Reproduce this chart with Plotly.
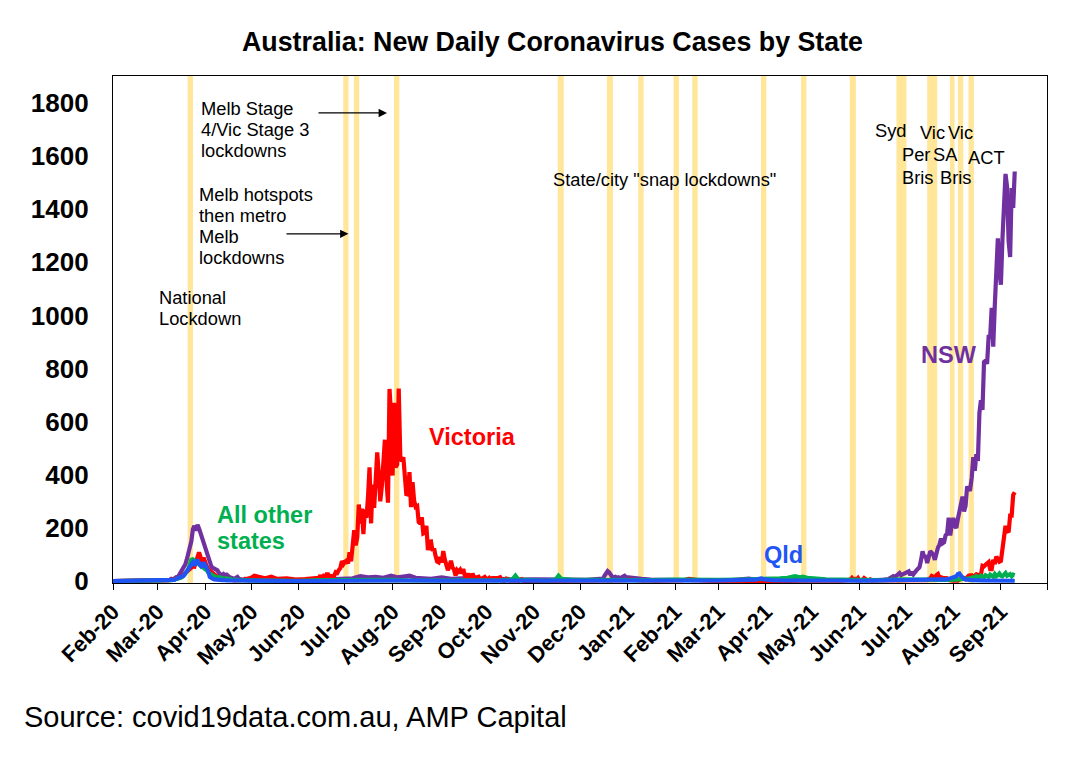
import pandas as pd
import plotly.graph_objects as go

# ---------------- axis data ----------------
tick_dates = ["2020-02-01", "2020-03-01", "2020-04-01", "2020-05-01", "2020-06-01", "2020-07-01",
              "2020-08-01", "2020-09-01", "2020-10-01", "2020-11-01", "2020-12-01", "2021-01-01",
              "2021-02-01", "2021-03-01", "2021-04-01", "2021-05-01", "2021-06-01", "2021-07-01",
              "2021-08-01", "2021-09-01", "2021-10-01"]
tick_labels = ["Feb-20", "Mar-20", "Apr-20", "May-20", "Jun-20", "Jul-20", "Aug-20", "Sep-20", "Oct-20",
               "Nov-20", "Dec-20", "Jan-21", "Feb-21", "Mar-21", "Apr-21", "May-21", "Jun-21", "Jul-21",
               "Aug-21", "Sep-21", ""]
y_ticks = [0, 200, 400, 600, 800, 1000, 1200, 1400, 1600, 1800]

# ---------------- lockdown periods ----------------
lock_start = ["2020-03-20 14:00", "2020-06-29 22:00", "2020-07-06 19:00", "2020-08-01 22:00",
              "2020-11-16 12:00", "2020-12-18 12:00", "2021-01-07 22:00", "2021-01-30 22:00",
              "2021-02-12 02:00", "2021-03-28 19:00", "2021-04-23 22:00", "2021-05-25 14:00",
              "2021-06-25 00:00", "2021-07-15 00:00", "2021-07-29 19:00", "2021-08-04 00:00",
              "2021-08-10 22:00"]
lock_end = ["2020-03-24 02:00", "2020-07-03 07:00", "2020-07-10 07:00", "2020-08-05 10:00",
            "2020-11-20 10:00", "2020-12-22 10:00", "2021-01-11 10:00", "2021-02-03 10:00",
            "2021-02-15 14:00", "2021-04-01 07:00", "2021-04-27 10:00", "2021-05-29 14:00",
            "2021-07-01 12:00", "2021-07-21 12:00", "2021-08-01 19:00", "2021-08-07 12:00",
            "2021-08-14 10:00"]

# ---------------- NSW ----------------
nsw_a_dates = ["2020-02-01", "2020-02-15", "2020-03-01"]
nsw_a_vals = [0, 0, 1]
nsw_b_start = "2020-03-05"
nsw_b_vals = [2, 3, 2, 3, 5, 8, 6, 10, 14, 12,
              22, 30, 38, 50, 62, 80, 105, 125, 150, 195,
              208, 190, 212, 198, 180, 155, 140, 125, 108, 93,
              75, 55, 50, 48, 42, 40, 30, 24, 20, 26,
              22, 24, 18, 14, 12, 10, 8, 12, 15, 8,
              6, 5, 4, 8, 4, 3, 5, 3]
nsw_c_dates = ["2020-05-08", "2020-05-15", "2020-05-22", "2020-06-01", "2020-06-10", "2020-06-20",
               "2020-07-01", "2020-07-06", "2020-07-11", "2020-07-16", "2020-07-21", "2020-07-26",
               "2020-07-31", "2020-08-04", "2020-08-08", "2020-08-12", "2020-08-16", "2020-08-21",
               "2020-08-26", "2020-09-02", "2020-09-08", "2020-09-15", "2020-09-22", "2020-10-01",
               "2020-10-10", "2020-10-20", "2020-11-01", "2020-11-12", "2020-11-24", "2020-12-05",
               "2020-12-12", "2020-12-16"]
nsw_c_vals = [4, 3, 5, 2, 3, 6, 8, 10, 18, 14, 16, 12, 20, 14, 17, 20, 12, 10, 8, 14, 8, 10, 7, 6,
              8, 5, 6, 4, 5, 4, 6, 9]
nsw_d_start = "2020-12-17"
nsw_d_vals = [20, 28, 37, 32, 22, 15, 14, 16, 12, 14, 10, 12, 16, 20, 15]
nsw_e_dates = ["2021-01-03", "2021-01-06", "2021-01-10", "2021-01-16", "2021-01-24", "2021-02-01",
               "2021-02-10", "2021-02-20", "2021-03-01", "2021-03-10", "2021-03-18", "2021-03-21",
               "2021-03-26", "2021-04-03", "2021-04-12", "2021-04-20", "2021-05-01", "2021-05-10",
               "2021-05-20", "2021-06-01", "2021-06-08"]
nsw_e_vals = [12, 10, 8, 5, 4, 3, 2, 4, 2, 3, 5, 9, 4, 5, 3, 5, 6, 4, 5, 3, 2]
nsw_f_start = "2021-06-14"
nsw_f_vals = [2, 3, 4, 5, 6, 5, 8, 10, 12, 18,
              15, 22, 28, 30, 22, 24, 26, 28, 33, 36,
              22, 34, 25, 30, 40, 46, 52, 78, 112, 90,
              96, 68, 98, 112, 106, 98, 80, 112, 125, 137,
              160, 142, 146, 172, 178, 238, 172, 210, 238, 207,
              200, 234, 262, 290, 318, 262, 283, 356, 344, 345,
              390, 466, 415, 478, 452, 633, 681, 644, 825, 830,
              818, 919, 919, 1029, 882, 1035, 1218, 1290, 1164, 1116,
              1288, 1431, 1533, 1485, 1281, 1220, 1480, 1405, 1542]

# ---------------- Victoria ----------------
vic_a_dates = ["2020-02-01", "2020-02-15", "2020-03-01"]
vic_a_vals = [0, 0, 1]
vic_b_start = "2020-03-05"
vic_b_vals = [2, 1, 3, 2, 3, 4, 5, 6, 9, 10,
              12, 14, 20, 25, 28, 35, 42, 48, 52, 55,
              54, 70, 95, 108, 90, 72, 88, 68, 55, 45,
              40, 32, 25, 20, 18, 15, 12, 8, 10, 9,
              6, 5, 4, 6, 3, 4, 2]
vic_c_dates = ["2020-04-25", "2020-05-01", "2020-05-03", "2020-05-06", "2020-05-10", "2020-05-14",
               "2020-05-18", "2020-05-24", "2020-05-30", "2020-06-05", "2020-06-10"]
vic_c_vals = [4, 12, 20, 14, 10, 16, 8, 10, 5, 7, 10]
vic_d_start = "2020-06-14"
vic_d_vals = [12, 21, 9, 18, 13, 25, 25, 16, 19, 17,
              20, 33, 30, 41, 49, 75, 64, 73, 77, 66,
              108, 74, 127, 191, 134, 165, 288, 216, 273, 177,
              270, 238, 317, 428, 217, 363, 275, 374, 484, 403,
              300, 357, 459, 532, 384, 295, 723, 627, 397, 671,
              429, 439, 725, 471, 450, 466, 394, 322, 331, 410,
              278, 372, 303, 279, 282, 222, 216, 240, 179, 182,
              208, 116, 148, 149, 113, 123, 94, 73, 70, 90,
              70, 113, 81, 63, 41, 55, 76, 51, 43, 21,
              41, 35, 42, 28, 45, 21, 14, 28, 14, 11,
              28, 15, 12, 14, 16, 5, 10, 13, 15, 8,
              6, 12, 7, 11, 10, 9, 11, 12, 14, 3,
              4, 2, 9, 8, 2, 1, 4, 2, 1, 3,
              1, 5, 7, 0, 0, 2, 0, 1, 0, 0]
vic_e_dates = ["2020-11-10", "2020-11-25", "2020-12-10", "2020-12-22", "2020-12-31", "2021-01-02",
               "2021-01-05", "2021-01-10", "2021-01-20", "2021-02-01", "2021-02-06", "2021-02-10",
               "2021-02-13", "2021-02-17", "2021-02-24", "2021-03-10", "2021-03-25", "2021-04-10",
               "2021-04-25", "2021-05-10", "2021-05-20"]
vic_e_vals = [0, 1, 0, 1, 3, 5, 3, 2, 1, 1, 3, 8, 5, 3, 1, 0, 1, 0, 1, 0, 1]
vic_f_start = "2021-05-24"
vic_f_vals = [3, 4, 6, 12, 5, 8, 4, 11, 2, 3, 4, 11, 6, 3, 3, 6, 2, 2]
vic_g_dates = ["2021-06-15", "2021-06-22", "2021-06-29", "2021-07-06", "2021-07-10"]
vic_g_vals = [1, 2, 1, 1, 2]
vic_h_start = "2021-07-14"
vic_h_vals = [2, 3, 7, 10, 19, 16, 13, 22, 26, 11,
              14, 12, 11, 10, 10, 4, 1, 2, 1, 0,
              1, 1, 6, 8, 6, 11, 7, 15, 20, 21,
              21, 14, 21, 25, 22, 24, 24, 57, 55, 61,
              65, 71, 45, 45, 80, 64, 92, 79, 73, 76,
              120, 176, 208, 190, 183, 246, 246, 324, 334]

# ---------------- Queensland ----------------
qld_a_dates = ["2020-02-01", "2020-02-15", "2020-03-01"]
qld_a_vals = [0, 1, 1]
qld_b_start = "2020-03-05"
qld_b_vals = [2, 3, 2, 3, 3, 4, 5, 4, 8, 10,
              14, 15, 17, 20, 28, 37, 45, 50, 62, 70,
              58, 72, 80, 65, 58, 70, 52, 60, 52, 38,
              15, 10, 8, 6, 5, 7, 5, 4, 3, 4,
              2, 2]
qld_c_dates = ["2020-04-22", "2020-05-01", "2020-05-15", "2020-06-01", "2020-07-01", "2020-07-15",
               "2020-08-01", "2020-08-15", "2020-09-01", "2020-10-01", "2020-11-01", "2020-12-01",
               "2021-01-01", "2021-01-08", "2021-01-15", "2021-02-01", "2021-03-01", "2021-03-25",
               "2021-03-29", "2021-03-31", "2021-04-05", "2021-04-15", "2021-05-01", "2021-05-15",
               "2021-06-01", "2021-06-15", "2021-06-29", "2021-07-05", "2021-07-15", "2021-07-25"]
qld_c_vals = [2, 1, 1, 0, 1, 2, 3, 2, 1, 1, 1, 2, 2, 4, 2, 1, 2, 5, 10, 6, 3, 2, 3, 2, 1, 2, 4, 3, 2, 4]
qld_d_start = "2021-07-28"
qld_d_vals = [6, 8, 10, 12, 10, 14, 18, 26, 28, 20, 12, 8, 6, 5, 4, 5, 3]
qld_e_dates = ["2021-08-20", "2021-08-27", "2021-09-03", "2021-09-10"]
qld_e_vals = [2, 1, 2, 1]

# ---------------- All other states ----------------
oth_a_dates = ["2020-02-01", "2020-02-15", "2020-03-01"]
oth_a_vals = [0, 0, 1]
oth_b_start = "2020-03-05"
oth_b_vals = [1, 2, 2, 2, 2, 3, 4, 5, 6, 8,
              10, 12, 15, 20, 25, 35, 45, 60, 80, 82,
              78, 75, 70, 62, 58, 55, 52, 48, 40, 32,
              28, 22, 20, 18, 15, 12, 14, 12, 10, 12,
              8, 10, 6, 8, 5, 4, 5, 3, 4, 3,
              3]
oth_c_dates = ["2020-05-01", "2020-05-15", "2020-06-01", "2020-06-15", "2020-07-01", "2020-07-15",
               "2020-08-01", "2020-08-15", "2020-09-01", "2020-09-15", "2020-10-01", "2020-10-12",
               "2020-10-18", "2020-10-20", "2020-10-22", "2020-11-01", "2020-11-10", "2020-11-15",
               "2020-11-17", "2020-11-19", "2020-11-25", "2020-12-05", "2020-12-15", "2021-01-01",
               "2021-01-15", "2021-02-01", "2021-02-15", "2021-03-01", "2021-03-15", "2021-04-01",
               "2021-04-10", "2021-04-15", "2021-04-18", "2021-04-20", "2021-04-23", "2021-04-25",
               "2021-04-28", "2021-05-03", "2021-05-10", "2021-05-20", "2021-06-01", "2021-06-15",
               "2021-06-28", "2021-07-05", "2021-07-15", "2021-07-20", "2021-07-27", "2021-08-03",
               "2021-08-08"]
oth_c_vals = [2, 1, 1, 3, 4, 3, 4, 2, 2, 3,
              2, 3, 6, 20, 5, 3, 2, 5, 20, 8,
              5, 4, 3, 4, 3, 5, 3, 4, 5, 6,
              10, 12, 15, 18, 14, 16, 12, 8, 6, 5,
              4, 3, 6, 5, 4, 6, 4, 5, 6]
oth_d_start = "2021-08-10"
oth_d_vals = [8, 6, 10, 12, 14, 10, 18, 15, 12, 20,
              16, 14, 22, 18, 15, 24, 20, 16, 26, 18,
              22, 28, 20, 18, 24, 30, 20, 22, 26, 18,
              24, 22]


# ---------------- helpers ----------------
def pts(dates, vals):
    return pd.Series(vals, index=pd.to_datetime(dates), dtype=float)


def run(start, vals):
    return pd.Series(vals, index=pd.date_range(start, periods=len(vals), freq="D"), dtype=float)


def assemble(*parts):
    s = pd.concat(parts)
    s = s[~s.index.duplicated(keep="last")].sort_index()
    return s


nsw = assemble(pts(nsw_a_dates, nsw_a_vals), run(nsw_b_start, nsw_b_vals), pts(nsw_c_dates, nsw_c_vals),
               run(nsw_d_start, nsw_d_vals), pts(nsw_e_dates, nsw_e_vals), run(nsw_f_start, nsw_f_vals))
vic = assemble(pts(vic_a_dates, vic_a_vals), run(vic_b_start, vic_b_vals), pts(vic_c_dates, vic_c_vals),
               run(vic_d_start, vic_d_vals), pts(vic_e_dates, vic_e_vals), run(vic_f_start, vic_f_vals),
               pts(vic_g_dates, vic_g_vals), run(vic_h_start, vic_h_vals))
qld = assemble(pts(qld_a_dates, qld_a_vals), run(qld_b_start, qld_b_vals), pts(qld_c_dates, qld_c_vals),
               run(qld_d_start, qld_d_vals), pts(qld_e_dates, qld_e_vals))
oth = assemble(pts(oth_a_dates, oth_a_vals), run(oth_b_start, oth_b_vals), pts(oth_c_dates, oth_c_vals),
               run(oth_d_start, oth_d_vals))

PURPLE = "#7030A0"
RED = "#FF0000"
GREEN = "#00B050"
BLUE = "#1F55F5"
BAND = "#FFE699"
FONT = "Liberation Sans, Arial, sans-serif"

# page has an 8px body margin: figure is placed at (8, 8) in the window
OFF = 8
W, H = 1070 - 2 * OFF, 765 - 2 * OFF
L, R, T, B = 113 - OFF, 1047 - OFF, 76 - OFF, 583.5 - OFF


def px(x):
    return (x - OFF - L) / (R - L)


def py(y):
    return (B - (y - OFF)) / (B - T)


fig = go.Figure()
for s, col in [(nsw, PURPLE), (vic, RED), (oth, GREEN), (qld, BLUE)]:
    fig.add_trace(go.Scatter(x=s.index, y=s.values, mode="lines",
                             line=dict(color=col, width=4.2), hoverinfo="skip"))

for a, b in zip(lock_start, lock_end):
    fig.add_shape(type="rect", xref="x", yref="paper", x0=a, x1=b, y0=0, y1=1,
                  fillcolor=BAND, line=dict(width=0), layer="below")

ann = []


def txt(text, x, y, size=18.3, color="black", bold=False, anchor="left"):
    ann.append(dict(text=text, x=px(x), y=py(y), xref="paper", yref="paper", showarrow=False,
                    xanchor=anchor, yanchor="middle",
                    font=dict(family=FONT, size=size, color=color, weight="bold" if bold else "normal")))


def arrow(x0, y0, x1, y1):
    ann.append(dict(text="", x=px(x1), y=py(y1), xref="paper", yref="paper", showarrow=True,
                    ax=x0 - x1, ay=y0 - y1, arrowhead=2, arrowsize=1.4, arrowwidth=1.2,
                    arrowcolor="black"))


# title and source
txt("Australia: New Daily Coronavirus Cases by State", 552, 42, size=26.8, bold=True, anchor="center")
txt("Source: covid19data.com.au, AMP Capital", 22, 718, size=29)

# lockdown notes
for i, line in enumerate(["Melb Stage", "4/Vic Stage 3", "lockdowns"]):
    txt(line, 199, 108.5 + 21 * i)
arrow(317, 113, 387, 113)
for i, line in enumerate(["Melb hotspots", "then metro", "Melb", "lockdowns"]):
    txt(line, 197, 195 + 20.8 * i)
arrow(285, 234, 348.5, 234)
txt("National", 157, 297.5)
txt("Lockdown", 157, 318.5)
txt('State/city "snap lockdowns"', 551, 180)
txt("Syd", 873, 131)
txt("Vic", 918, 132.5)
txt("Vic", 946, 132.5)
txt("Per", 900, 155)
txt("SA", 931, 155)
txt("ACT", 966, 157.5)
txt("Bris", 900, 177.5)
txt("Bris", 937.5, 177.5)

# series labels
txt("Victoria", 427, 437, size=23.5, color=RED, bold=True)
txt("NSW", 919, 355, size=23.5, color=PURPLE, bold=True)
txt("All other", 215, 515, size=23.5, color=GREEN, bold=True)
txt("states", 215, 541, size=23.5, color=GREEN, bold=True)
txt("Qld", 762, 555, size=23.5, color=BLUE, bold=True)

fig.update_layout(
    width=W, height=H,
    margin=dict(l=L, r=W - R, t=T, b=H - B, pad=0),
    plot_bgcolor="white", paper_bgcolor="white",
    showlegend=False,
    annotations=ann,
    font=dict(family=FONT, color="black"),
)
fig.update_xaxes(
    type="date", range=["2020-02-01", "2021-10-01"],
    tickmode="array", tickvals=tick_dates, ticktext=tick_labels, tickangle=-45,
    ticks="outside", ticklen=6, tickwidth=1.3, tickcolor="black",
    tickfont=dict(family=FONT, size=22, color="black", weight="bold"),
    showline=True, linecolor="black", linewidth=1.3, mirror=True,
    showgrid=False, zeroline=False, layer="below traces",
)
fig.update_yaxes(
    range=[-7.5, 1901.6], tickmode="array", tickvals=y_ticks, ticktext=[str(v) for v in y_ticks],
    ticks="", ticklabelstandoff=18,
    tickfont=dict(family=FONT, size=26, color="black", weight="bold"),
    showline=True, linecolor="black", linewidth=1.3, mirror=True,
    showgrid=False, zeroline=False, layer="below traces",
)

fig.write_html("out.html")
